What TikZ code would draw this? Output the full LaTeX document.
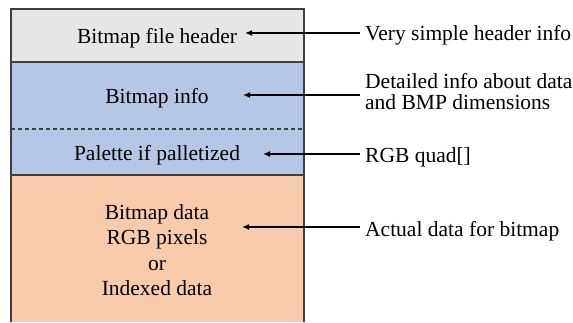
\documentclass[tikz,border=0pt]{standalone}
\usepackage{fontspec}
\setmainfont{Liberation Serif}
\usetikzlibrary{arrows.meta, positioning}
\definecolor{hdrgray}{HTML}{E7E6E6}
\definecolor{infoblue}{HTML}{B4C7E7}
\definecolor{dataorange}{HTML}{F8CBAD}
\definecolor{edgegray}{HTML}{3F3F3F}

\begin{document}
\begin{tikzpicture}[x=1pt, y=-1pt,
        part/.style={font=\fontsize{21.5}{25.5}\selectfont, align=center, inner sep=0pt},
        note/.style={font=\fontsize{21.5}{21}\selectfont, align=left, inner xsep=5pt, inner ysep=0pt},
        pointer/.style={line width=1.6pt, -{Latex[length=7pt,width=6pt]}},
    ]
    \useasboundingbox (0,0) rectangle (573,322);

    % the sections of the file
    \fill[hdrgray] (11,9) rectangle (304,62);
    \fill[infoblue] (11,62) rectangle (304,175);
    \fill[dataorange] (11,175) rectangle (304,322);
    \draw[edgegray, dashed, line width=1.2pt, dash pattern=on 4pt off 3pt] (11,129) -- (304,129);
    \draw[edgegray, line width=1.6pt] (11,62) -- (304,62) (11,175) -- (304,175);
    \draw[edgegray, line width=1.6pt] (11,322) -- (11,9) -- (304,9) -- (304,322);

    \node[part, anchor=base] (header) at (157,43) {Bitmap file header};
    \node[part, anchor=base] (info) at (157,103) {Bitmap info};
    \node[part, anchor=base] (palette) at (157,160) {Palette if palletized};
    \node[part] (data) at (157,250) {Bitmap data\\RGB pixels\\or\\Indexed data};

    % descriptions on the right
    \node[note, anchor=base west] (headernote) at (360,40) {Very simple header info};
    \node[note, anchor=west] (infonote) at (360,91.5) {Detailed info about data\\and BMP dimensions};
    \node[note, anchor=base west] (palettenote) at (360,162) {RGB quad[]};
    \node[note, anchor=base west] (datanote) at (360,236) {Actual data for bitmap};

    \coordinate (headertip) at (245,33);
    \coordinate (infotip) at (243,95);
    \coordinate (palettetip) at (263,154);
    \coordinate (datatip) at (242,227);

    \draw[pointer] (headernote.west |- headertip) -- (headertip);
    \draw[pointer] (infonote.west |- infotip) -- (infotip);
    \draw[pointer] (palettenote.west |- palettetip) -- (palettetip);
    \draw[pointer] (datanote.west |- datatip) -- (datatip);
\end{tikzpicture}
\end{document}
